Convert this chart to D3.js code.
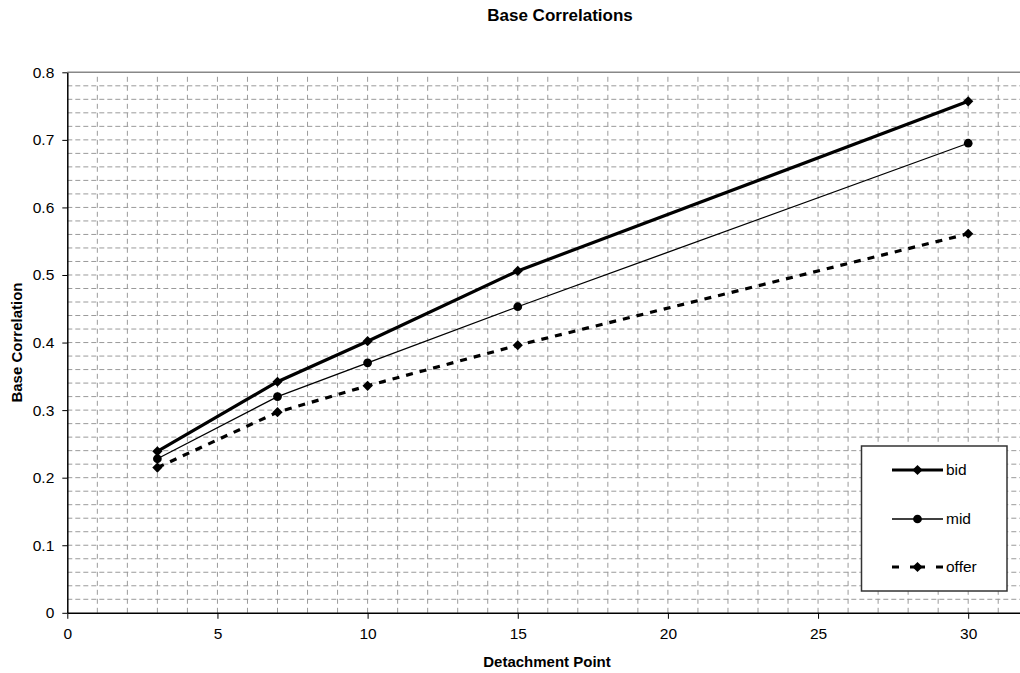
<!DOCTYPE html>
<html>
<head>
<meta charset="utf-8">
<style>
    body { margin: 0; background: #fff; }
    svg { display: block; font-family: Arial, 'Liberation Sans', sans-serif; }
    .tick text { font-size: 15.5px; fill: #000; }
    .axis .domain { stroke: #000; stroke-width: 1.5px; }
    .axis .tick line { stroke: #000; }
    .grid line { stroke: #9a9a9a; stroke-width: 1px; }
    .title { font-size: 17px; font-weight: bold; }
    .axis-label { font-size: 15px; font-weight: bold; }
    .legend-text { font-size: 15.5px; }
</style>
</head>
<body>
<svg width="1020" height="673"></svg>
<script src="https://d3js.org/d3.v7.min.js"></script>
<script>
    // data
    let detachment = [3, 7, 10, 15, 30];
    let bid = [0.239, 0.342, 0.402, 0.506, 0.757];
    let mid = [0.228, 0.320, 0.370, 0.453, 0.695];
    let offer = [0.215, 0.297, 0.336, 0.396, 0.561];

    let seriesNames = ["bid", "mid", "offer"];
    let xTicks = [0, 5, 10, 15, 20, 25, 30];
    let yTicks = [0, 0.1, 0.2, 0.3, 0.4, 0.5, 0.6, 0.7, 0.8];

    let svg = d3.select("svg");

    let margin = { top: 72.3, left: 67.3 };

    let x = d3.scaleLinear()
        .domain([0, 32])
        .range([margin.left, margin.left + 32 * 30.03]);

    let y = d3.scaleLinear()
        .domain([0, 0.8])
        .range([612.8, margin.top]);

    // gridlines
    let grid = svg.append("g").attr("class", "grid");
    grid.selectAll(".hg")
        .data(d3.range(1, 40).map(i => i * 0.02))
        .join("line")
        .attr("x1", x(0)).attr("x2", x(32))
        .attr("y1", d => y(d)).attr("y2", d => y(d))
        .attr("stroke-dasharray", "5,3");
    grid.selectAll(".vg")
        .data(d3.range(1, 32))
        .join("line")
        .attr("x1", d => x(d)).attr("x2", d => x(d))
        .attr("y1", y(0)).attr("y2", y(0.8))
        .attr("stroke-dasharray", "5,4");

    // top border
    svg.append("line")
        .attr("x1", x(0)).attr("x2", x(32))
        .attr("y1", y(0.8)).attr("y2", y(0.8))
        .attr("stroke", "#888").attr("stroke-width", 1.5);

    // axes
    svg.append("g")
        .attr("class", "axis x")
        .attr("transform", `translate(0,${y(0)})`)
        .call(d3.axisBottom(x).tickValues(xTicks).tickSize(6).tickPadding(9).tickSizeOuter(0).tickFormat(d3.format("d")));

    svg.append("g")
        .attr("class", "axis y")
        .attr("transform", `translate(${x(0)},0)`)
        .call(d3.axisLeft(y).tickValues(yTicks).tickSize(5).tickPadding(8).tickSizeOuter(0).tickFormat(d => d === 0 ? "0" : d3.format(".1f")(d)));

    // series
    let styles = {
        bid: { width: 3.2, dash: null, marker: d3.symbolSquare, rot: 45, size: 52 },
        mid: { width: 1.3, dash: null, marker: d3.symbolCircle, rot: 0, size: 60 },
        offer: { width: 3.2, dash: "7,7", marker: d3.symbolSquare, rot: 45, size: 52 }
    };
    let values = { bid: bid, mid: mid, offer: offer };

    let line = d3.line()
        .x(d => x(d[0]))
        .y(d => y(d[1]));

    seriesNames.forEach(name => {
        let pts = detachment.map((d, i) => [d, values[name][i]]);
        let s = styles[name];
        svg.append("path")
            .datum(pts)
            .attr("fill", "none")
            .attr("stroke", "#000")
            .attr("stroke-width", s.width)
            .attr("stroke-dasharray", s.dash)
            .attr("d", line);
        svg.append("g").selectAll("path")
            .data(pts)
            .join("path")
            .attr("transform", d => `translate(${x(d[0])},${y(d[1])}) rotate(${s.rot})`)
            .attr("d", d3.symbol().type(s.marker).size(s.size))
            .attr("fill", "#000");
    });

    // title and labels
    svg.append("text")
        .attr("class", "title")
        .attr("x", 560)
        .attr("y", 21)
        .attr("text-anchor", "middle")
        .text("Base Correlations");

    svg.append("text")
        .attr("class", "axis-label")
        .attr("x", 547)
        .attr("y", 667)
        .attr("text-anchor", "middle")
        .text("Detachment Point");

    svg.append("text")
        .attr("class", "axis-label")
        .attr("transform", `translate(22,${(y(0) + y(0.8)) / 2}) rotate(-90)`)
        .attr("text-anchor", "middle")
        .text("Base Correlation");

    // legend
    let leg = svg.append("g").attr("class", "legend");
    leg.append("rect")
        .attr("x", 861.5).attr("y", 446)
        .attr("width", 145.5).attr("height", 145)
        .attr("fill", "#fff")
        .attr("stroke", "#333")
        .attr("stroke-width", 1.5);

    let legY = [470, 519, 567];
    seriesNames.forEach((name, i) => {
        let s = styles[name];
        leg.append("line")
            .attr("x1", 892).attr("x2", 943)
            .attr("y1", legY[i]).attr("y2", legY[i])
            .attr("stroke", "#000")
            .attr("stroke-width", s.width)
            .attr("stroke-dasharray", name === "offer" ? "7,11,15,11,7" : null);
        leg.append("path")
            .attr("transform", `translate(917.5,${legY[i]}) rotate(${s.rot})`)
            .attr("d", d3.symbol().type(s.marker).size(s.size))
            .attr("fill", "#000");
        leg.append("text")
            .attr("class", "legend-text")
            .attr("x", 946)
            .attr("y", legY[i])
            .attr("dy", "0.35em")
            .text(name);
    });
</script>
</body>
</html>
